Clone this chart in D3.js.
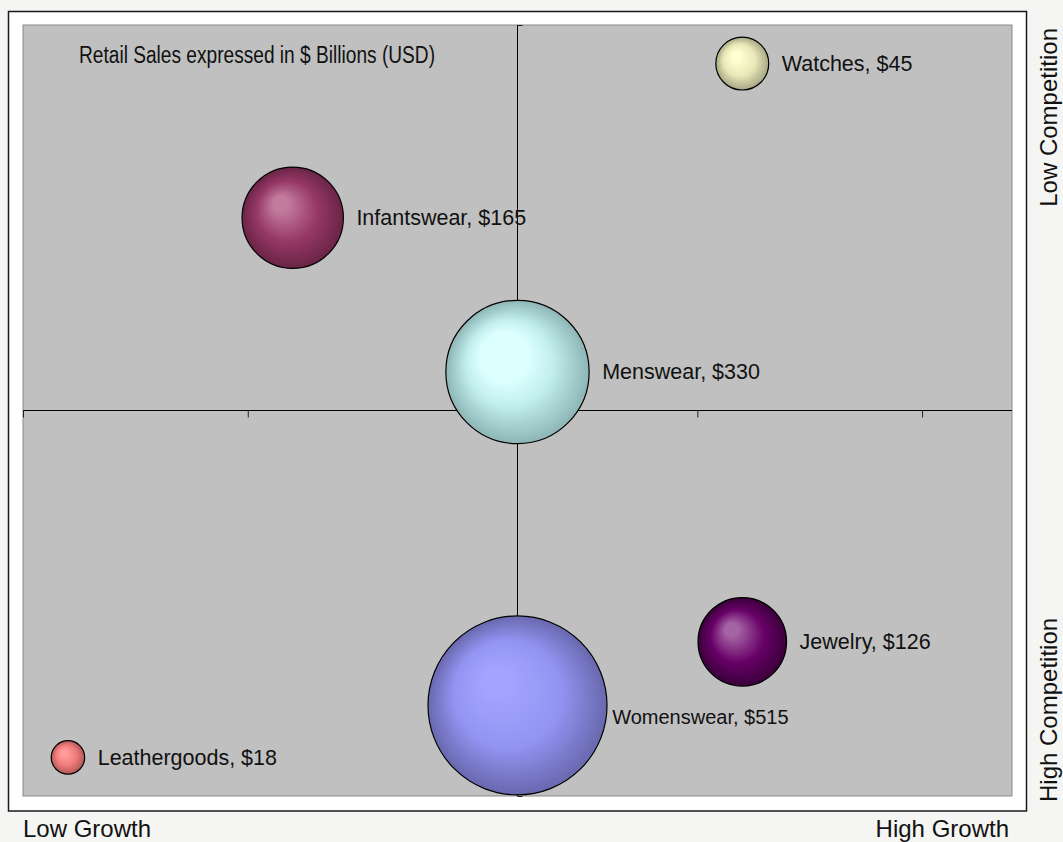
<!DOCTYPE html>
<html>
<head>
<meta charset="utf-8">
<script src="https://cdn.jsdelivr.net/npm/d3@7"></script>
<style>
body{margin:0;background:#f5f5f3;}
svg{display:block;}
</style>
</head>
<body>
<script>
// bubble data
const categories=["Watches","Infantswear","Menswear","Womenswear","Jewelry","Leathergoods"]
const sales=[45,165,330,515,126,18]
const growth=[3.2,1.2,2.2,2.2,3.2,0.2]
const competition=[3.8,3.0,2.2,0.47,0.8,0.2]
const xTicks=[0,1,2,3,4]
const yTicks=[0,4]
const bubbleColors={
	"Watches":["#ffffd2","#e8e8b8","#a6a684"],
	"Infantswear":["#c27a9e","#963866","#6a2447"],
	"Menswear":["#dcffff","#c2eeee","#8db5b5"],
	"Womenswear":["#a4a4ff","#9393f2","#6868ae"],
	"Jewelry":["#a463a4","#680068","#3a003a"],
	"Leathergoods":["#ff9c9c","#f27c7c","#b05858"]
}

var W=1063,H=842
var plot={x:23,y:25,w:989,h:771}

const svg=d3.select("body").append("svg").attr("width",W).attr("height",H)

var defs=svg.append("defs")
categories.forEach((c,i)=>{
	let g=defs.append("radialGradient").attr("id","grad"+i)
		.attr("cx","50%").attr("cy","50%").attr("r","50%")
		.attr("fx","36%").attr("fy","34%")
	let col=bubbleColors[c]
	g.append("stop").attr("offset","0%").attr("stop-color",col[0])
	g.append("stop").attr("offset",c=="Menswear"?"35%":"15%").attr("stop-color",col[0])
	g.append("stop").attr("offset","60%").attr("stop-color",col[1])
	g.append("stop").attr("offset","100%").attr("stop-color",col[2])
})

// outer chart area
svg.append("rect").attr("x",8.5).attr("y",11.5).attr("width",1018).attr("height",799.5)
	.attr("fill","white").attr("stroke","#1a1a1a").attr("stroke-width",1.5)
// plot area
svg.append("rect").attr("x",plot.x).attr("y",plot.y).attr("width",plot.w).attr("height",plot.h)
	.attr("fill","#c0c0c0").attr("stroke","#8a8a8a").attr("stroke-width",1)

var x=d3.scaleLinear().domain([0,4.4]).range([plot.x,plot.x+plot.w])
var y=d3.scaleLinear().domain([0,4]).range([plot.y+plot.h,plot.y])
var r=d3.scaleSqrt().domain([0,515]).range([0,89.5])

// horizontal axis crossing at middle of y
var xAxis=d3.axisBottom(x).tickValues(xTicks).tickSize(7).tickFormat("")
svg.append("g").attr("transform","translate(0,"+y(2)+")").call(xAxis)
	.call(g=>g.select(".domain").attr("stroke","#000").attr("d","M"+plot.x+",0H"+(plot.x+plot.w)))
	.call(g=>g.selectAll(".tick line").attr("stroke","#222"))

var yAxis=d3.axisRight(y).tickValues(yTicks).tickSize(5).tickFormat("")
svg.append("g").attr("transform","translate("+x(2.2)+",0)").call(yAxis)
	.call(g=>g.select(".domain").attr("stroke","#000").attr("d","M0,"+plot.y+"V"+(plot.y+plot.h)))
	.call(g=>g.selectAll(".tick line").attr("stroke","#222"))

var data=categories.map((c,i)=>({name:c,sales:sales[i],gx:growth[i],cy:competition[i],i:i}))

var bub=svg.append("g").selectAll("g").data(data).join("g")
bub.append("circle")
	.attr("cx",d=>x(d.gx))
	.attr("cy",d=>y(d.cy))
	.attr("r",d=>r(d.sales))
	.attr("fill",d=>"url(#grad"+d.i+")")
	.attr("stroke","#000").attr("stroke-width",1.2)

// labels to the right; womenswear label sits a bit lower right
function labelDy(d){return d.name=="Womenswear"?12:0}
bub.append("text")
	.attr("x",d=>{
		let rr=r(d.sales)
		let dy=labelDy(d)
		return x(d.gx)+Math.sqrt(rr*rr-dy*dy)+(d.name=="Womenswear"?6:13)
	})
	.attr("y",d=>y(d.cy)+labelDy(d))
	.attr("dy","0.35em")
	.attr("font-family","'Liberation Sans',Arial,sans-serif")
	.attr("font-size",d=>d.name=="Womenswear"?"20px":"21.5px")
	.attr("fill","#111")
	.text(d=>d.name+", $"+d.sales)

svg.append("text").attr("x",79).attr("y",63)
	.attr("font-family","'Liberation Sans Narrow','Arial Narrow',sans-serif")
	.attr("font-size","23px").attr("fill","#111")
	.attr("textLength",356).attr("lengthAdjust","spacingAndGlyphs")
	.text("Retail Sales expressed in $ Billions (USD)")

var axisFont="'Liberation Sans',Arial,sans-serif"
svg.append("text").attr("x",23).attr("y",837).attr("font-family",axisFont).attr("font-size","24px").attr("fill","#111").text("Low Growth")
svg.append("text").attr("x",1009).attr("y",837).attr("text-anchor","end").attr("font-family",axisFont).attr("font-size","24px").attr("fill","#111").text("High Growth")
svg.append("text").attr("transform","translate(1057,28) rotate(-90)").attr("text-anchor","end").attr("font-family",axisFont).attr("font-size","24px").attr("fill","#111").text("Low Competition")
svg.append("text").attr("transform","translate(1057,802) rotate(-90)").attr("text-anchor","start").attr("font-family",axisFont).attr("font-size","24px").attr("fill","#111").text("High Competition")
</script>
</body>
</html>
